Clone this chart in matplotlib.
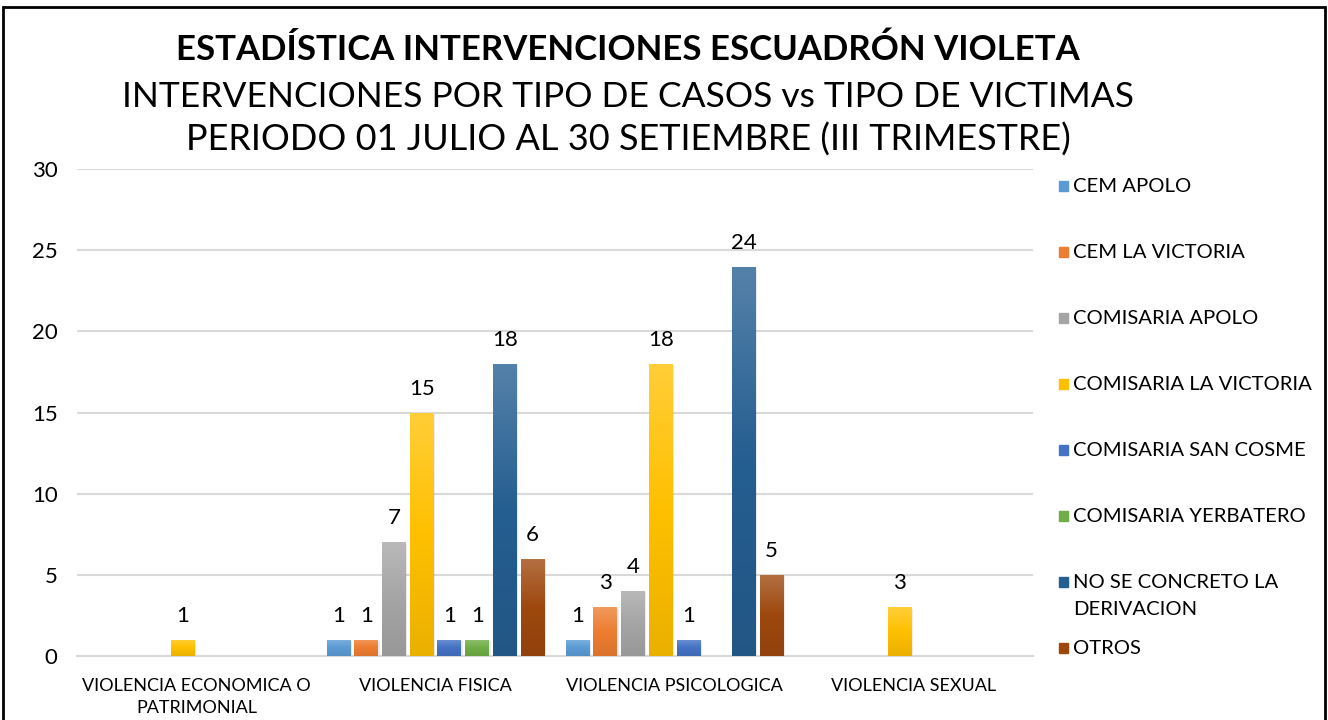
import numpy as np
import matplotlib
matplotlib.use("Agg")
import matplotlib.pyplot as plt
from matplotlib.colors import LinearSegmentedColormap, to_rgb
from matplotlib.patches import Rectangle

plt.rcParams['font.family'] = ['Lato', 'DejaVu Sans']

categories = ["VIOLENCIA ECONOMICA O\nPATRIMONIAL", "VIOLENCIA FISICA",
              "VIOLENCIA PSICOLOGICA", "VIOLENCIA SEXUAL"]
series = ["CEM APOLO", "CEM LA VICTORIA", "COMISARIA APOLO", "COMISARIA LA VICTORIA",
          "COMISARIA SAN COSME", "COMISARIA YERBATERO",
          "NO SE CONCRETO LA\nDERIVACION", "OTROS"]
cem_apolo = [0, 1, 1, 0]
cem_la_victoria = [0, 1, 3, 0]
comisaria_apolo = [0, 7, 4, 0]
comisaria_la_victoria = [1, 15, 18, 3]
comisaria_san_cosme = [0, 1, 1, 0]
comisaria_yerbatero = [0, 1, 0, 0]
no_se_concreto = [0, 18, 24, 0]
otros = [0, 6, 5, 0]
values = [cem_apolo, cem_la_victoria, comisaria_apolo, comisaria_la_victoria,
          comisaria_san_cosme, comisaria_yerbatero, no_se_concreto, otros]
colors = ["#5B9BD5", "#ED7D31", "#A5A5A5", "#FFC000",
          "#4472C4", "#70AD47", "#255E91", "#9E480E"]


def mix(c, other, t):
    a = np.array(to_rgb(c))
    b = np.array(to_rgb(other))
    return tuple(a * (1 - t) + b * t)


fig = plt.figure(figsize=(13.28, 7.2), dpi=100)
ax = fig.add_axes([0.058, 0.089, 0.72, 0.676])

# outer frame
fig.patches.append(Rectangle((3 / 1328, -0.05), 1322 / 1328, 0.05 + 713 / 720,
                             transform=fig.transFigure, fill=False,
                             edgecolor="black", linewidth=2))

x = np.arange(len(categories))
step = 0.116
width = 0.1
grad = np.linspace(0, 1, 256).reshape(-1, 1)
for i, (name, vals, col) in enumerate(zip(series, values, colors)):
    xs = x + (i - 3.5) * step
    cmap = LinearSegmentedColormap.from_list(
        "g%d" % i, [mix(col, "black", 0.08), col, mix(col, "white", 0.22)])
    bars = ax.bar(xs, vals, width, color=col, zorder=3, linewidth=0)
    for b, v in zip(bars, vals):
        if v == 0:
            continue
        bx, bw = b.get_x(), b.get_width()
        # soft shadow
        ax.add_patch(Rectangle((bx + 0.006, 0), bw, v - 0.08, color="#000000",
                               alpha=0.08, zorder=2, linewidth=0))
        im = ax.imshow(grad, extent=[bx, bx + bw, 0, v], cmap=cmap,
                       aspect="auto", zorder=4, origin="lower")
        im.set_clip_path(b)
        ax.annotate(str(v), (bx + bw / 2, v), xytext=(0, 10),
                    textcoords="offset points", ha="center", va="bottom",
                    fontsize=16, color="#000000")

ax.set_xlim(-0.5, len(categories) - 0.5)
ax.set_ylim(0, 30)
ax.set_yticks(range(0, 31, 5))
ax.set_xticks(x)
ax.set_xticklabels(categories, fontsize=13, linespacing=1.45)
ax.tick_params(axis="y", labelsize=16, length=0, pad=14)
ax.tick_params(axis="x", length=0, pad=16)
ax.grid(axis="y", color="#D9D9D9", linewidth=1.5, zorder=0)
ax.set_axisbelow(True)
for s in ["top", "right", "left"]:
    ax.spines[s].set_visible(False)
ax.spines["bottom"].set_color("#D9D9D9")
ax.spines["bottom"].set_linewidth(1.5)

# titles
fig.text(0.473, 1 - 50 / 720, "ESTADÍSTICA INTERVENCIONES ESCUADRÓN VIOLETA",
         ha="center", va="center", fontsize=25, fontweight="bold")
fig.text(0.473, 1 - 97 / 720, "INTERVENCIONES POR TIPO DE CASOS vs TIPO DE VICTIMAS",
         ha="center", va="center", fontsize=25.5)
fig.text(0.473, 1 - 140 / 720, "PERIODO 01 JULIO AL 30 SETIEMBRE (III TRIMESTRE)",
         ha="center", va="center", fontsize=26)

# legend
leg_y = [186, 252, 318, 384, 450, 516, 596, 648]
for name, col, yy in zip(series, colors, leg_y):
    fy = 1 - yy / 720
    first_line_y = fy + (14 / 720 if "\n" in name else 0)
    fig.patches.append(Rectangle((1059 / 1328, first_line_y - 5 / 720), 9 / 1328, 10 / 720,
                                 transform=fig.transFigure, color=col))
    fig.text(1073 / 1328, fy, name, ha="left", va="center", fontsize=14.6,
             linespacing=1.75)

fig.savefig("out.png", dpi=100)
